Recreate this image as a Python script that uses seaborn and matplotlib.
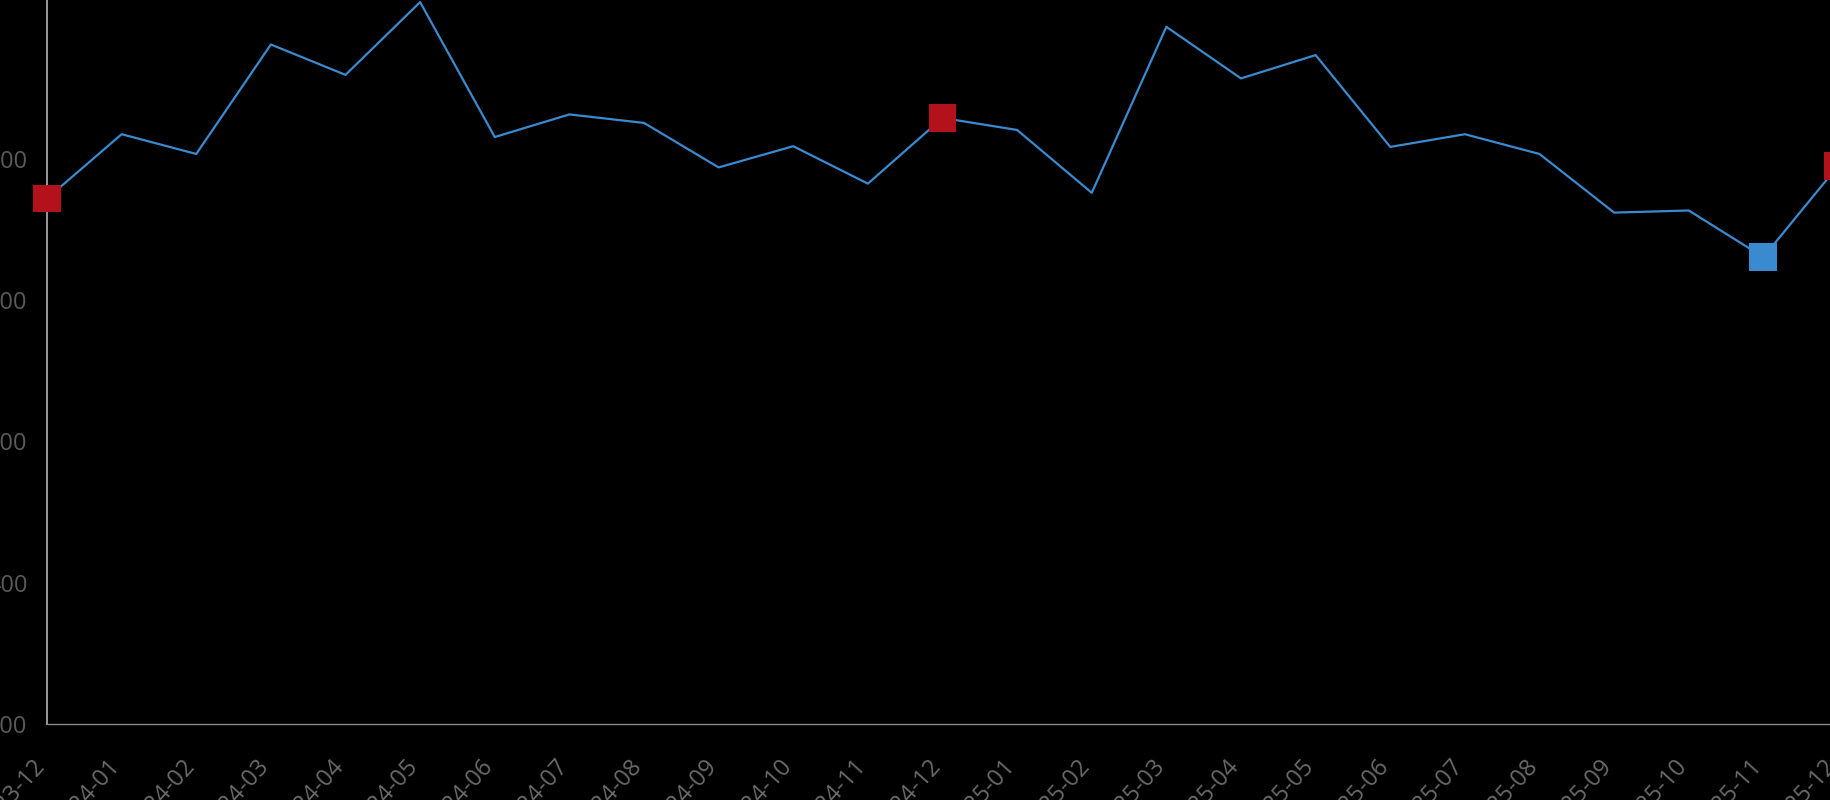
import matplotlib
matplotlib.use("Agg")
import matplotlib.pyplot as plt
import matplotlib.transforms as mtransforms
import seaborn as sns

# Datos (valores mensuales)
meses = ['2023-12', '2024-01', '2024-02', '2024-03', '2024-04', '2024-05', '2024-06',
         '2024-07', '2024-08', '2024-09', '2024-10', '2024-11', '2024-12', '2025-01',
         '2025-02', '2025-03', '2025-04', '2025-05', '2025-06', '2025-07', '2025-08',
         '2025-09', '2025-10', '2025-11', '2025-12']
valores = [944, 1035, 1007, 1162, 1119, 1222, 1031, 1063, 1051, 988, 1018, 965, 1058,
           1041, 952, 1187, 1114, 1147, 1017, 1035, 1007, 924, 927, 861, 990]
destacados = ['2023-12', '2024-12', '2025-11', '2025-12']  # puntos con marcador
tipo_destacado = ['dic', 'dic', 'min', 'dic']
y_ticks = [200, 400, 600, 800, 1000]

sns.set_style("dark", {"axes.facecolor": "black", "figure.facecolor": "black"})
plt.rcParams['font.family'] = ['Open Sans', 'DejaVu Sans']

fig = plt.figure(figsize=(18.3, 8), dpi=100)
ax = fig.add_axes([47 / 1830, 76 / 800, (1838 - 47) / 1830, 724 / 800])

idx = list(range(len(meses)))
sns.lineplot(x=idx, y=valores, color='#3a8ad0', linewidth=1.6, ax=ax)

pos = [meses.index(m) for m in destacados]
vals = [valores[i] for i in pos]
sns.scatterplot(x=pos, y=vals, hue=tipo_destacado, palette={'dic': '#b3121c', 'min': '#3a8ad0'},
                marker='s', s=400, linewidth=0, legend=False, zorder=5, ax=ax)
for col in ax.collections:
    col.set_clip_on(False)  # que los marcadores no se corten en el borde

ax.set_xlim(0, 24)
ax.set_ylim(200, 1225)
ax.set_yticks(y_ticks)
ax.set_yticklabels([str(v) for v in y_ticks])
ax.set_xticks(idx)
ax.set_xticklabels(meses, rotation=48, ha='right', rotation_mode='anchor')
ax.tick_params(axis='y', length=0, pad=14, labelsize=17, labelcolor='#5a5a5a')
ax.tick_params(axis='x', length=0, pad=22, labelsize=17, labelcolor='#6a6a6a')

# desplazar las etiquetas del eje X un poco a la izquierda
offset = mtransforms.ScaledTranslation(-14 / 100, 0, fig.dpi_scale_trans)
for lab in ax.get_xticklabels():
    lab.set_transform(lab.get_transform() + offset)

ax.grid(False)
ax.set_xlabel('')
ax.set_ylabel('')
for lado in ['top', 'right']:
    ax.spines[lado].set_visible(False)
ax.spines['left'].set_color('#b5b5b5')
ax.spines['left'].set_linewidth(1.2)
ax.spines['bottom'].set_color('#8a8a8a')
ax.spines['bottom'].set_linewidth(1.0)

fig.savefig('out.png', dpi=100, facecolor='black')
